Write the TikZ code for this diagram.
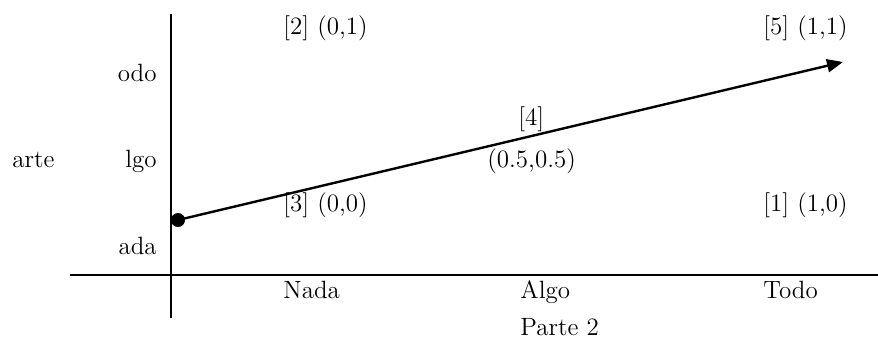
\documentclass[tikz,border=0pt]{standalone}
\usetikzlibrary{arrows.meta}
\begin{document}
\begin{tikzpicture}[x=0.5pt,y=-0.5pt,
  lbl/.style={inner sep=0pt,font=\fontsize{12.5}{15}\selectfont},
  axis/.style={line width=1pt},
  vec/.style={line width=1.2pt,-{Triangle[length=8pt,width=6.5pt]}},
  dot/.style={circle,fill=black,inner sep=0pt,minimum size=7pt}]
\useasboundingbox (0,0) rectangle (878,343);
% axes
\coordinate (vtop) at (171,14);
\coordinate (vbot) at (171,318);
\coordinate (hleft) at (70,275);
\coordinate (hright) at (878,275);
\draw[axis] (vtop) -- (vbot);
\draw[axis] (hleft) -- (hright);
% vector
\node[dot] (start) at (178,220) {};
\coordinate (tip) at (843,62);
\draw[vec] (start.center) -- (tip);
% y labels
\node[lbl,anchor=base east] (odo) at (157,81) {odo};
\node[lbl,anchor=base east] (lgo) at (157,167) {lgo};
\node[lbl,anchor=base east] (ada) at (157,254) {ada};
\node[lbl,anchor=base west] (arte) at (12,167) {arte};
% x labels
\node[lbl,anchor=base west] (nada) at (283,298) {Nada};
\node[lbl,anchor=base west] (algo) at (520,298) {Algo};
\node[lbl,anchor=base west] (todo) at (763,298) {Todo};
\node[lbl,anchor=base west] (parte2) at (520,335) {Parte 2};
% points
\node[lbl,anchor=base west] (p2) at (283,34) {[2] (0,1)};
\node[lbl,anchor=base west] (p5) at (763,34) {[5] (1,1)};
\node[lbl,anchor=base west] (p3) at (283,211) {[3] (0,0)};
\node[lbl,anchor=base west] (p1) at (763,211) {[1] (1,0)};
\node[lbl,anchor=base west] (p4) at (518,125) {[4]};
\node[lbl,anchor=base west] (p4c) at (487,167) {(0.5,0.5)};
\end{tikzpicture}
\end{document}
